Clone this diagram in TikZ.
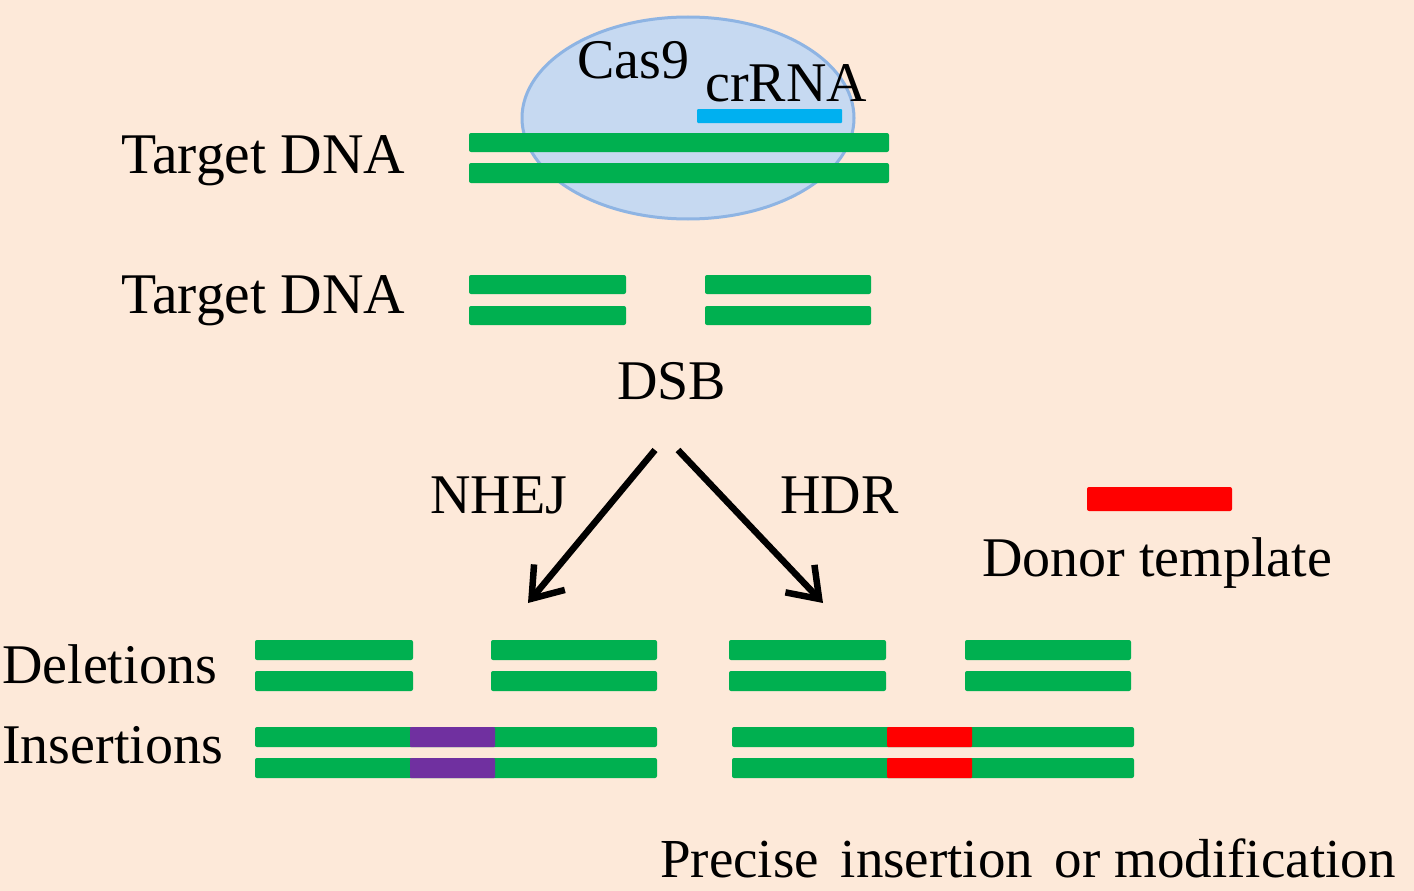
\documentclass[tikz,border=0pt]{standalone}
\usepackage{fontspec}
\setmainfont{Liberation Serif}
\usetikzlibrary{arrows.meta}
\definecolor{bg}{HTML}{FDE9D9}
\definecolor{dnagreen}{HTML}{00B050}
\definecolor{rnablue}{HTML}{00B0F0}
\definecolor{casfill}{HTML}{C6D9F1}
\definecolor{casline}{HTML}{8EB4E3}
\definecolor{inspurple}{HTML}{7030A0}
\definecolor{donorred}{HTML}{FF0000}
\tikzset{
  lbl/.style={anchor=base west, inner sep=0pt, font=\fontsize{56}{64}\selectfont},
  strand/.style={fill=dnagreen, draw=none, rounded corners=2pt},
  insp/.style={fill=inspurple, draw=none, rounded corners=1pt},
  insr/.style={fill=donorred, draw=none, rounded corners=1pt},
  patharrow/.style={line width=6.5pt, -{Straight Barb[length=28pt, width=40pt, line width=6.5pt]}},
}
\begin{document}
\begin{tikzpicture}[x=1pt, y=-1pt]
\useasboundingbox (0,0) rectangle (1414,891);
\fill[bg] (0,0) rectangle (1414,891);

% Cas9 complex
\draw[fill=casfill, draw=casline, line width=3pt] (688,118) ellipse [x radius=166, y radius=101];
\node[lbl] (cas9) at (577,78) {Cas9};
\node[lbl] (crrna) at (705,102) {crRNA};
\fill[rnablue, rounded corners=1pt] (697,109) rectangle (842,123);
\fill[strand] (469,133) rectangle (889,152);
\fill[strand] (469,163) rectangle (889,183);
\node[lbl, font=\fontsize{57.5}{64}\selectfont] (target1) at (121,173) {Target DNA};

% DSB
\node[lbl, font=\fontsize{57.5}{64}\selectfont] (target2) at (121,313) {Target DNA};
\fill[strand] (469,275) rectangle (626,294);
\fill[strand] (469,306) rectangle (626,325);
\fill[strand] (705,275) rectangle (871,294);
\fill[strand] (705,306) rectangle (871,325);
\node[lbl] (dsb) at (617,399) {DSB};

% Pathways
\coordinate (nhejstart) at (655,450);
\coordinate (nhejend) at (528,603);
\coordinate (hdrstart) at (678,450);
\coordinate (hdrend) at (823,603);
\draw[patharrow] (nhejstart) -- (nhejend);
\draw[patharrow] (hdrstart) -- (hdrend);
\node[lbl] (nhej) at (430,513) {NHEJ};
\node[lbl] (hdr) at (780,513) {HDR};

% Donor template
\fill[donorred, rounded corners=2pt] (1087,487) rectangle (1232,511);
\node[lbl] (donor) at (982,576) {Donor template};

% Deletions
\node[lbl] (del) at (2,683) {Deletions};
\fill[strand] (255,640) rectangle (413,660);
\fill[strand] (255,671) rectangle (413,691);
\fill[strand] (491,640) rectangle (657,660);
\fill[strand] (491,671) rectangle (657,691);
\fill[strand] (729,640) rectangle (886,660);
\fill[strand] (729,671) rectangle (886,691);
\fill[strand] (965,640) rectangle (1131,660);
\fill[strand] (965,671) rectangle (1131,691);

% Insertions
\node[lbl] (ins) at (2,763) {Insertions};
\fill[strand] (255,727) rectangle (657,747);
\fill[strand] (255,758) rectangle (657,778);
\fill[insp] (410,727) rectangle (495,747);
\fill[insp] (410,758) rectangle (495,778);
\fill[strand] (732,727) rectangle (1134,747);
\fill[strand] (732,758) rectangle (1134,778);
\fill[insr] (887,727) rectangle (972,747);
\fill[insr] (887,758) rectangle (972,778);

\node[lbl, font=\fontsize{55}{64}\selectfont] (precise) at (660,877) {Precise\hspace{8pt} insertion\hspace{8pt} or modification};
\end{tikzpicture}
\end{document}
